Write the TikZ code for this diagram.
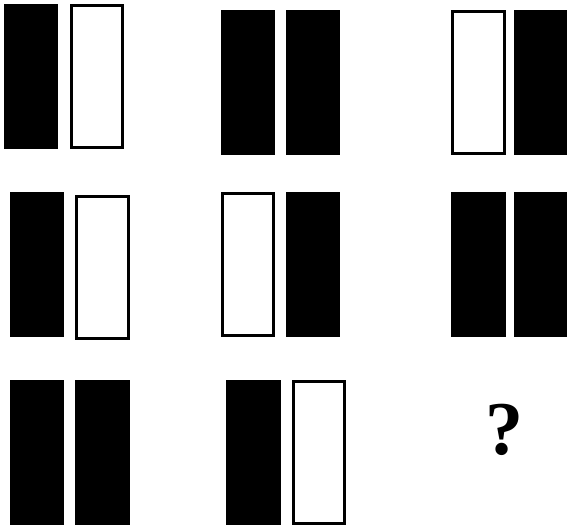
\documentclass[tikz,border=0pt]{standalone}
\usepackage{fontspec}
\setmainfont{Liberation Serif}
\usepackage{tikz}
\tikzset{
  solidbar/.style={fill=black},
  hollowbar/.style={draw=black,fill=white,line width=3pt},
}
\begin{document}
\begin{tikzpicture}[x=1pt,y=-1pt]
  \useasboundingbox (0,0) rectangle (567,527);
  % row 1
  \fill[solidbar](4,4)rectangle(58,149);
  \draw[hollowbar](71.5,5.5)rectangle(122.5,147.5);
  \fill[solidbar](221,10)rectangle(275,155);
  \fill[solidbar](286,10)rectangle(340,155);
  \draw[hollowbar](452.5,11.5)rectangle(504.5,153.5);
  \fill[solidbar](514,10)rectangle(567,155);
  % row 2
  \fill[solidbar](10,192)rectangle(64,337);
  \draw[hollowbar](76.5,196.5)rectangle(128.5,338.5);
  \draw[hollowbar](222.5,193.5)rectangle(273.5,335.5);
  \fill[solidbar](286,192)rectangle(340,337);
  \fill[solidbar](451,192)rectangle(506,337);
  \fill[solidbar](514,192)rectangle(567,337);
  % row 3
  \fill[solidbar](10,380)rectangle(64,525);
  \fill[solidbar](75,380)rectangle(130,525);
  \fill[solidbar](226,380)rectangle(281,525);
  \draw[hollowbar](293.5,381.5)rectangle(344.5,523.5);
  \node[font=\fontsize{76}{78}\selectfont\bfseries,inner sep=0pt] (ask) at (504,430){?};
\end{tikzpicture}
\end{document}
